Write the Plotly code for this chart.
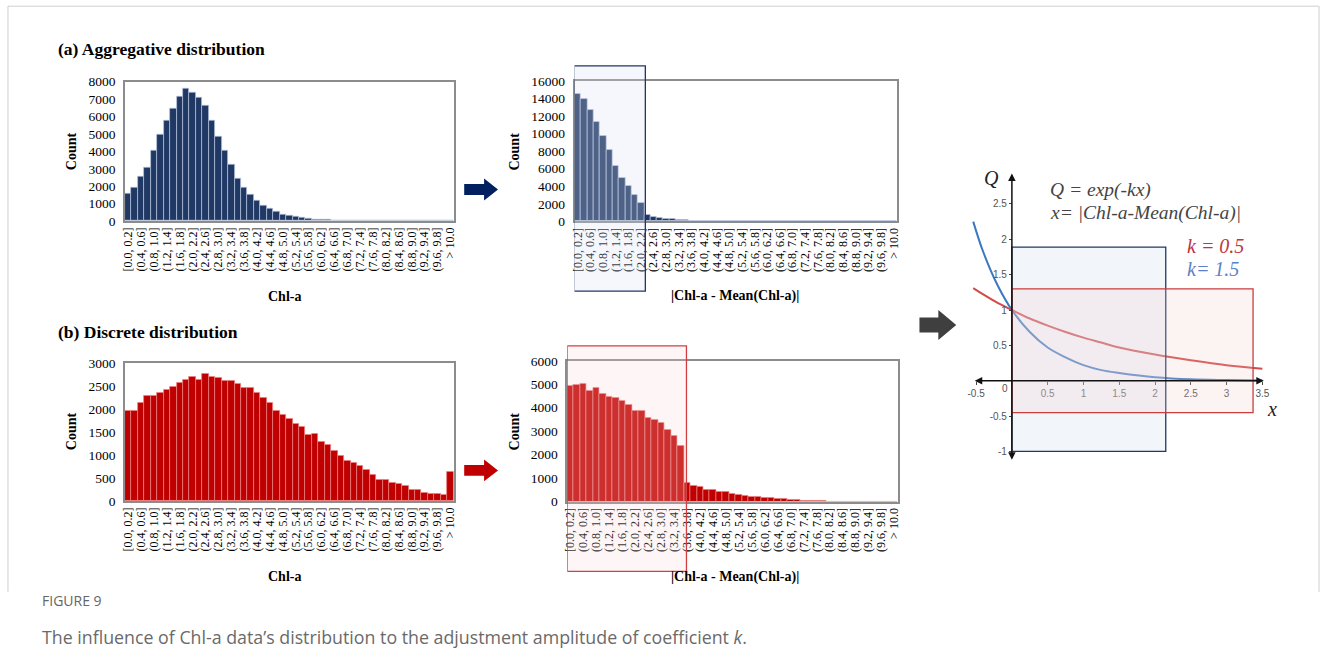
import plotly.graph_objects as go

W, H = 1328, 672

# ---------------- data ----------------
BIN_EDGES = ["0.0", "0.2", "0.4", "0.6", "0.8", "1.0", "1.2", "1.4", "1.6", "1.8", "2.0",
             "2.2", "2.4", "2.6", "2.8", "3.0", "3.2", "3.4", "3.6", "3.8", "4.0",
             "4.2", "4.4", "4.6", "4.8", "5.0", "5.2", "5.4", "5.6", "5.8", "6.0",
             "6.2", "6.4", "6.6", "6.8", "7.0", "7.2", "7.4", "7.6", "7.8", "8.0",
             "8.2", "8.4", "8.6", "8.8", "9.0", "9.2", "9.4", "9.6", "9.8", "10.0"]
categories = (["[" + BIN_EDGES[0] + ", " + BIN_EDGES[1] + "]"]
              + ["(" + BIN_EDGES[i] + ", " + BIN_EDGES[i + 1] + "]" for i in range(1, 50)]
              + ["> 10.0"])
tick_labels = categories[::2]

agg_chla = [1550, 1940, 2570, 3090, 4030, 4970, 5780, 6430, 7140, 7580,
            7390, 7100, 6600, 5760, 4820, 4050, 3240, 2460, 1940, 1500,
            1150, 900, 690, 540, 380, 300, 230, 170, 130, 100,
            80, 60, 40, 30, 20, 15, 10, 8, 5, 4,
            3, 2, 2, 1, 1, 1, 1, 0, 0, 0, 0]
agg_dev = [14500, 14000, 12750, 11300, 9720, 8100, 6320, 5000, 4080, 3000,
           2120, 760, 500, 380, 300, 230, 180, 140, 100, 70,
           50, 40, 30, 20, 15, 10, 8, 5, 4, 3,
           2, 2, 1, 1, 1, 0, 0, 0, 0, 0,
           0, 0, 0, 0, 0, 0, 0, 0, 0, 0, 0]
dis_chla = [1950, 1950, 2140, 2275, 2275, 2340, 2420, 2485, 2565, 2640,
            2690, 2640, 2760, 2700, 2675, 2615, 2615, 2550, 2450, 2450,
            2350, 2230, 2130, 1965, 1870, 1790, 1670, 1610, 1430, 1460,
            1290, 1215, 1090, 980, 880, 830, 760, 680, 570, 455,
            470, 390, 375, 325, 240, 240, 180, 165, 145, 125, 630]
dis_dev = [4950, 4990, 5020, 4740, 4870, 4600, 4480, 4410, 4290, 4120,
           3890, 3860, 3590, 3480, 3350, 3070, 2800, 2360, 780, 690,
           610, 510, 495, 425, 410, 340, 280, 255, 210, 200,
           170, 140, 125, 100, 85, 55, 40, 30, 20, 15,
           10, 8, 5, 4, 3, 2, 2, 1, 1, 0, 0]

# Q = exp(-kx) curves
curve_x = [-0.54, -0.4, -0.2, 0, 0.25, 0.5, 0.75, 1, 1.25, 1.5, 2, 2.5, 3, 3.5]
q_k05 = [1.31, 1.22, 1.10, 1.0, 0.88, 0.78, 0.69, 0.61, 0.54, 0.47, 0.37, 0.29, 0.22, 0.17]
q_k15 = [2.25, 1.82, 1.35, 1.0, 0.69, 0.47, 0.33, 0.22, 0.15, 0.11, 0.05, 0.02, 0.01, 0.005]
right_xticks = [-0.5, 0, 0.5, 1, 1.5, 2, 2.5, 3, 3.5]
right_xticktext = ["-0.5", "", "0.5", "1", "1.5", "2", "2.5", "3", "3.5"]
right_yticks = [-1, -0.5, 0.5, 1, 1.5, 2, 2.5]
right_yticktext = ["-1", "-0.5", "0.5", "1", "1.5", "2", "2.5"]


def px(x):
    return x / W


def py(y):
    # page pixel (from top) -> paper fraction, with a small vertical calibration
    return 1 - ((y - 5.8) / 0.9815) / H


NAVY = "#203864"
RED = "#c00000"
SERIF = "Liberation Serif"

fig = go.Figure()

panels = [
    ("x", "y", agg_chla, NAVY, "rgba(185,198,222,1)"),
    ("x2", "y2", agg_dev, NAVY, "rgba(185,198,222,1)"),
    ("x3", "y3", dis_chla, RED, "rgba(235,130,130,1)"),
    ("x4", "y4", dis_dev, RED, "rgba(235,130,130,1)"),
]
for xa, ya, vals, col, lcol in panels:
    fig.add_trace(go.Bar(x=categories, y=vals, xaxis=xa, yaxis=ya,
                         marker=dict(color=col, line=dict(color=lcol, width=0.7)),
                         showlegend=False, hoverinfo="skip"))

fig.add_trace(go.Scatter(x=curve_x, y=q_k15, xaxis="x5", yaxis="y5", mode="lines",
                         line=dict(color="#3a78c2", width=2, shape="spline"),
                         showlegend=False, hoverinfo="skip"))
fig.add_trace(go.Scatter(x=curve_x, y=q_k05, xaxis="x5", yaxis="y5", mode="lines",
                         line=dict(color="#d24a4a", width=2, shape="spline"),
                         showlegend=False, hoverinfo="skip"))

xtickfont = dict(family=SERIF, size=12, color="#000")
ytickfont = dict(family=SERIF, size=13.5, color="#000")


def hist_x(dom, anchor):
    return dict(domain=[px(dom[0]), px(dom[1])], anchor=anchor, type="category",
                tickmode="array", tickvals=tick_labels, ticktext=tick_labels,
                tickangle=-90, tickfont=xtickfont, showline=True, mirror=True,
                linecolor="#8c8c8c", linewidth=1.5, ticks="", showgrid=False,
                zeroline=False, range=[-0.5, 50.5], fixedrange=True)


def hist_y(dom, anchor, top, dt):
    return dict(domain=[py(dom[1]), py(dom[0])], anchor=anchor, range=[0, top],
                dtick=dt, tickformat="d", tickfont=ytickfont, showline=True, mirror=True,
                linecolor="#8c8c8c", linewidth=1.5, ticks="", showgrid=False,
                ticklabelstandoff=5, zeroline=False, fixedrange=True)


# right panel geometry
RX = [-0.6, 3.7]
RY = [-1.2, 3.0]
rdx = [970.8, 1280.4]
rdy = [168.0, 466.2]
zero_x_paper = px(rdx[0] + (0 - RX[0]) / (RX[1] - RX[0]) * (rdx[1] - rdx[0]))
top_p, bot_p = py(rdy[0]), py(rdy[1])
zero_y_paper = bot_p + (0 - RY[0]) / (RY[1] - RY[0]) * (top_p - bot_p)
rtick = dict(family="Liberation Sans", size=10, color="#555")

fig.update_layout(
    width=W, height=H, margin=dict(l=0, r=0, t=0, b=0),
    paper_bgcolor="white", plot_bgcolor="rgba(0,0,0,0)",
    bargap=0, hovermode=False, font=dict(family=SERIF, color="#000"),
    xaxis=hist_x([121.7, 452.3], "y"),
    yaxis=hist_y([80.7, 220.7], "x", 8000, 1000),
    xaxis2=hist_x([574, 898.3], "y2"),
    yaxis2=hist_y([80, 221], "x2", 16000, 2000),
    xaxis3=hist_x([121.7, 452.3], "y3"),
    yaxis3=hist_y([363, 501.7], "x3", 3000, 500),
    xaxis4=hist_x([566.7, 899], "y4"),
    yaxis4=hist_y([361, 502.3], "x4", 6000, 1000),
    xaxis5=dict(domain=[px(rdx[0]), px(rdx[1])], range=RX, anchor="free",
                position=zero_y_paper, showline=False, zeroline=False, showgrid=False,
                tickmode="array", tickvals=right_xticks, ticktext=right_xticktext,
                ticks="outside", ticklen=3, tickcolor="#444", tickfont=rtick,
                fixedrange=True),
    yaxis5=dict(domain=[bot_p, top_p], range=RY, anchor="free",
                position=zero_x_paper, showline=False, zeroline=False, showgrid=False,
                tickmode="array", tickvals=right_yticks, ticktext=right_yticktext,
                ticks="outside", ticklen=3, tickcolor="#444", tickfont=rtick,
                fixedrange=True),
)

shapes = []
# outer frame
shapes.append(dict(type="line", xref="paper", yref="paper", x0=px(4), x1=px(4),
                   y0=py(5), y1=py(593), line=dict(color="#cfcfcf", width=1)))
shapes.append(dict(type="line", xref="paper", yref="paper", x0=px(4), x1=px(1323),
                   y0=py(5), y1=py(5), line=dict(color="#cfcfcf", width=1)))
shapes.append(dict(type="line", xref="paper", yref="paper", x0=px(1323), x1=px(1323),
                   y0=py(5), y1=py(593), line=dict(color="#cfcfcf", width=1)))

# highlight boxes on middle histograms
shapes.append(dict(type="rect", xref="x2", yref="paper", x0=-0.6, x1=10.7,
                   y0=py(291), y1=py(65), layer="above",
                   fillcolor="rgba(215,225,242,0.25)", line=dict(color=NAVY, width=1.3)))
shapes.append(dict(type="rect", xref="x4", yref="paper", x0=-0.5, x1=17.9,
                   y0=py(572.3), y1=py(346), layer="above",
                   fillcolor="rgba(250,215,215,0.22)", line=dict(color="#d04040", width=1.3)))

# boxes on the right plot
shapes.append(dict(type="rect", xref="x5", yref="y5", x0=0, x1=2.15, y0=-1, y1=1.89,
                   layer="above", fillcolor="rgba(205,215,235,0.25)",
                   line=dict(color="#1f3864", width=1.3)))
shapes.append(dict(type="rect", xref="x5", yref="y5", x0=0, x1=3.37, y0=-0.45, y1=1.30,
                   layer="above", fillcolor="rgba(240,200,200,0.22)",
                   line=dict(color="#cc3d3d", width=1.3)))


def block_arrow(x0, xs, x1, ym, sh, hh, color):
    pts = [(x0, ym - sh), (xs, ym - sh), (xs, ym - hh), (x1, ym), (xs, ym + hh),
           (xs, ym + sh), (x0, ym + sh)]
    path = "M " + " L ".join(f"{px(a):.5f},{py(b):.5f}" for a, b in pts) + " Z"
    return dict(type="path", xref="paper", yref="paper", path=path,
                fillcolor=color, line=dict(color=color, width=0))


shapes.append(block_arrow(463, 483, 497, 189, 5.5, 11, "#002060"))
shapes.append(block_arrow(463, 483, 497, 471, 5.5, 11, RED))
shapes.append(block_arrow(921, 940, 958, 325, 7.5, 15, "#3f3f3f"))

fig.update_layout(shapes=shapes)

ann = []


def txt(x, y, text, size=13, color="#000", xanchor="center", family=SERIF, angle=0):
    ann.append(dict(xref="paper", yref="paper", x=px(x), y=py(y), text=text,
                    showarrow=False, xanchor=xanchor, yanchor="middle",
                    textangle=angle, font=dict(family=family, size=size, color=color)))


txt(52, 48, "<b>(a) Aggregative distribution</b>", size=17.5, xanchor="left")
txt(52, 332, "<b>(b) Discrete distribution</b>", size=17.5, xanchor="left")
for (x, y) in [(68, 151), (514, 151), (68, 432), (514, 432)]:
    txt(x, y, "<b>Count</b>", size=14, angle=-90)
txt(282, 296, "<b>Chl-a</b>", size=14)
txt(282, 578, "<b>Chl-a</b>", size=14)
txt(735, 296, "<b>|Chl-a - Mean(Chl-a)|</b>", size=14)
txt(735, 578, "<b>|Chl-a - Mean(Chl-a)|</b>", size=14)

# right plot texts
txt(993, 177, "<i>Q</i>", size=20, color="#222")
txt(1276, 409, "<i>x</i>", size=20, color="#222")
txt(1007, 389, "0", size=10, color="#555", family="Liberation Sans")
txt(1050, 190, "<i>Q = exp(-kx)</i>", size=19.5, color="#444", xanchor="left")
txt(1050, 213, "<i>x= |Chl-a-Mean(Chl-a)|</i>", size=19.5, color="#444", xanchor="left")
txt(1188, 246, "<i>k = 0.5</i>", size=20, color="#c0343a", xanchor="left")
txt(1188, 269, "<i>k= 1.5</i>", size=20, color="#5b80c8", xanchor="left")

# axis arrows of the right plot
ann.append(dict(xref="x5", yref="y5", axref="x5", ayref="y5", x=3.52, y=0, ax=-0.54, ay=0,
                text="", showarrow=True, arrowhead=2, arrowside="end+start",
                arrowsize=1, arrowwidth=1.5, arrowcolor="#111"))
ann.append(dict(xref="x5", yref="y5", axref="x5", ayref="y5", x=0, y=2.93, ax=0, ay=-1.14,
                text="", showarrow=True, arrowhead=2, arrowside="end+start",
                arrowsize=1, arrowwidth=1.5, arrowcolor="#111"))

# caption
txt(36, 602, "FIGURE 9", size=14, color="#666", xanchor="left", family="Open Sans")
txt(36, 638, "The influence of Chl-a data\u2019s distribution to the adjustment amplitude of coefficient <i>k</i>.",
    size=17.8, color="#6a6a6a", xanchor="left", family="Open Sans")

fig.update_layout(annotations=ann)

fig.write_html("out.html", config={"displayModeBar": False},
               post_script="document.body.style.margin='0';document.body.style.overflow='hidden';")
